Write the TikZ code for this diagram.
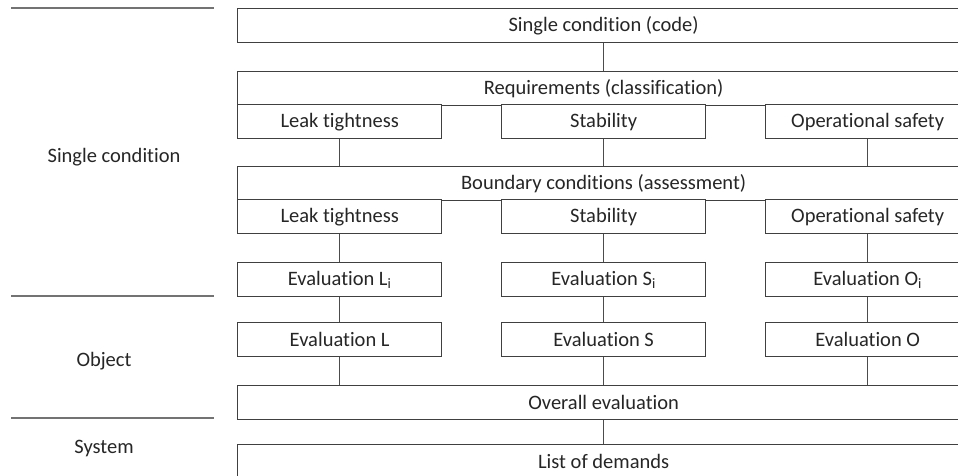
\documentclass[tikz,border=0pt]{standalone}
\usepackage{fontspec}
\setmainfont{Carlito}[Ligatures={NoCommon}]
\begin{document}
\begin{tikzpicture}[x=1pt,y=-1pt,
  every node/.style={font=\fontsize{20.5}{24}\selectfont, text=black!85},
  box/.style={draw=black!75, line width=1.3pt, fill=white, minimum height=34pt, inner sep=0pt, anchor=north west},
  wide/.style={box, minimum width=732pt},
  sub/.style={box, minimum width=204pt},
  link/.style={draw=black!70, line width=1.1pt},
  sep/.style={draw=black!55, line width=1.1pt},
  lbl/.style={anchor=center}]
\useasboundingbox (0,0) rectangle (958,475);
\clip (0,0) rectangle (958,475);
\fill[white] (0,0) rectangle (958,475);
% left separators
\draw[sep] (11,8) -- (214,8);
\draw[sep] (11,296) -- (214,296);
\draw[sep] (11,418) -- (214,418);
\node[lbl] (lsc) at (114,157) {Single condition};
\node[lbl] (lob) at (104,361) {Object};
\node[lbl] (lsy) at (104,448) {System};
% boxes
\node[wide] (code) at (237,8) {Single condition (code)};
\node[wide] (req) at (237,71) {Requirements (classification)};
\node[sub] (req1) at (237,104) {Leak tightness};
\node[sub] (req2) at (501,104) {Stability};
\node[sub] (req3) at (765,104) {Operational safety};
\node[wide] (bnd) at (237,166) {Boundary conditions (assessment)};
\node[sub] (bnd1) at (237,199) {Leak tightness};
\node[sub] (bnd2) at (501,199) {Stability};
\node[sub] (bnd3) at (765,199) {Operational safety};
\node[sub] (ei1) at (237,262) {Evaluation L\textsubscript{i}};
\node[sub] (ei2) at (501,262) {Evaluation S\textsubscript{i}};
\node[sub] (ei3) at (765,262) {Evaluation O\textsubscript{i}};
\node[sub] (e1) at (237,322) {Evaluation L};
\node[sub] (e2) at (501,322) {Evaluation S};
\node[sub] (e3) at (765,322) {Evaluation O};
\node[wide] (over) at (237,385) {Overall evaluation};
\node[wide] (list) at (237,444) {List of demands};
% connectors
\draw[link] (code.south) -- (req.north);
\draw[link] (req1.south) -- (req1.south |- bnd.north);
\draw[link] (req2.south) -- (bnd.north);
\draw[link] (req3.south) -- (req3.south |- bnd.north);
\draw[link] (bnd1.south) -- (ei1.north);
\draw[link] (bnd2.south) -- (ei2.north);
\draw[link] (bnd3.south) -- (ei3.north);
\draw[link] (ei1.south) -- (e1.north);
\draw[link] (ei2.south) -- (e2.north);
\draw[link] (ei3.south) -- (e3.north);
\draw[link] (e1.south) -- (e1.south |- over.north);
\draw[link] (e2.south) -- (over.north);
\draw[link] (e3.south) -- (e3.south |- over.north);
\draw[link] (over.south) -- (list.north);
\end{tikzpicture}
\end{document}
